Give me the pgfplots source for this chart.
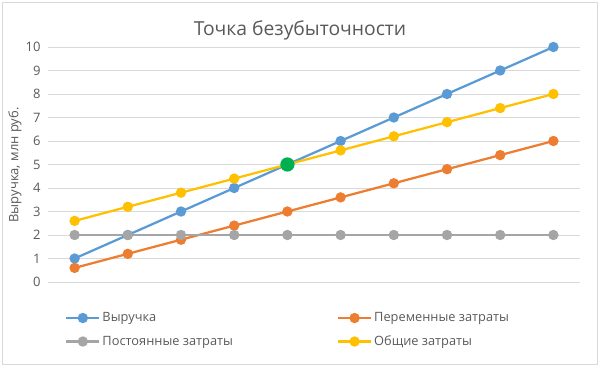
\documentclass[border=0pt]{standalone}
\usepackage{pgfplots}
\pgfplotsset{compat=1.18}
\usepackage{fontspec}
\setmainfont{Open Sans}
\definecolor{cBlue}{HTML}{5B9BD5}
\definecolor{cOrange}{HTML}{ED7D31}
\definecolor{cGray}{HTML}{A5A5A5}
\definecolor{cYellow}{HTML}{FFC000}
\definecolor{cGreen}{HTML}{00B050}
\definecolor{cText}{HTML}{595959}
\definecolor{cGrid}{HTML}{D9D9D9}
\begin{document}
\begin{tikzpicture}[x=1pt,y=1pt]
\path (0,0) rectangle (601,369);
\draw[cGrid, line width=1pt] (2.5,5) rectangle (597.5,366);
\node[text=cText, font=\fontsize{19.3}{22}\selectfont] at (300,339) {Точка безубыточности};
\node[text=cText, font=\fontsize{13}{15}\selectfont, rotate=90] at (15,204) {Выручка, млн руб.};
\begin{axis}[
  at={(48pt,87pt)}, anchor=south west,
  scale only axis, width=532pt, height=235pt,
  xmin=0.5, xmax=10.5, ymin=0, ymax=10,
  xtick=\empty,
  ytick={0,1,...,10},
  ymajorgrids, grid style={cGrid, line width=0.9pt},
  axis line style={draw=none},
  major tick length=0pt,
  yticklabel style={text=cText, font=\fontsize{13}{15}\selectfont, xshift=-4pt},
  /pgf/number format/assume math mode=true,
  clip=false,
  every axis plot/.append style={line width=2.25pt, mark=*, mark size=4pt},
  legend columns=2,
  legend style={draw=none, fill=none, inner sep=0pt, at={(0.032,-0.204)}, anchor=west,
    font=\fontsize{12.8}{15}\selectfont, text=cText,
    /tikz/every even column/.append style={column sep=102pt},
    row sep=8.5pt},
  legend cell align=left,
  legend image code/.code={\draw[mark repeat=2,mark phase=2,#1] plot coordinates {(0pt,0pt) (16.5pt,0pt) (33pt,0pt)};},
]
\addplot[cBlue, mark options={fill=cBlue}] coordinates {(1,1) (2,2) (3,3) (4,4) (5,5) (6,6) (7,7) (8,8) (9,9) (10,10)};
\addlegendentry{Выручка}
\addplot[cOrange, mark options={fill=cOrange}] coordinates {(1,0.6) (2,1.2) (3,1.8) (4,2.4) (5,3.0) (6,3.6) (7,4.2) (8,4.8) (9,5.4) (10,6.0)};
\addlegendentry{Переменные затраты}
\addplot[cGray, mark options={fill=cGray}] coordinates {(1,2) (2,2) (3,2) (4,2) (5,2) (6,2) (7,2) (8,2) (9,2) (10,2)};
\addlegendentry{Постоянные затраты}
\addplot[cYellow, mark options={fill=cYellow}] coordinates {(1,2.6) (2,3.2) (3,3.8) (4,4.4) (5,5.0) (6,5.6) (7,6.2) (8,6.8) (9,7.4) (10,8.0)};
\addlegendentry{Общие затраты}
\addplot[only marks, mark=*, mark size=6pt, cGreen, mark options={fill=cGreen}, forget plot] coordinates {(5,5)};
\end{axis}
\end{tikzpicture}
\end{document}
